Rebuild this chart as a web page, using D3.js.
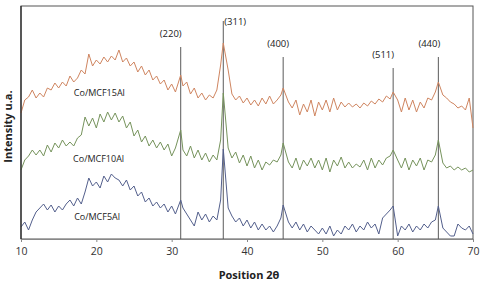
<!DOCTYPE html>
<html>
<head>
<meta charset="utf-8">
<script src="https://cdn.jsdelivr.net/npm/d3@7"></script>
<style>
  body { margin: 0; background: #fff; }
  text { font-family: "Open Sans", "Noto Sans", sans-serif; }
</style>
</head>
<body>
<div id="chart"></div>
<script>
// 2-theta positions shared by the three patterns
var angles = [
    10, 10.5, 11, 11.5, 12, 12.5, 13, 13.5, 14, 14.5,
    15, 15.5, 16, 16.5, 17, 17.5, 18, 18.5, 19, 19.5,
    20, 20.5, 21, 21.5, 22, 22.5, 23, 23.5, 24, 24.5,
    25, 25.5, 26, 26.5, 27, 27.5, 28, 28.5, 29, 29.5,
    30, 30.5, 31.2, 31.5, 32, 32.5, 33, 33.5, 34, 34.5,
    35, 35.5, 36, 36.5, 36.85, 37.5, 38, 38.5, 39, 39.5,
    40, 40.5, 41, 41.5, 42, 42.5, 43, 43.5, 44, 44.5,
    44.8, 45.5, 46, 46.5, 47, 47.5, 48, 48.5, 49, 49.5,
    50, 50.5, 51, 51.5, 52, 52.5, 53, 53.5, 54, 54.5,
    55, 55.5, 56, 56.5, 57, 57.5, 58, 58.5, 59, 59.4,
    60, 60.5, 61, 61.5, 62, 62.5, 63, 63.5, 64, 64.5,
    65, 65.4, 66, 66.5, 67, 67.5, 68, 68.5, 69, 69.5,
    70
];

// intensities (already offset, as stacked in the figure)
var mcf15 = [
    126, 139, 142, 149, 141, 146, 142, 151, 149, 156,
    151, 157, 153, 163, 157, 161, 169, 165, 185, 173,
    179, 175, 182, 177, 183, 179, 189, 177, 181, 173,
    177, 167, 173, 164, 169, 159, 163, 155, 159, 149,
    155, 147, 164, 153, 157, 145, 151, 141, 146, 139,
    144, 141, 149, 174, 196, 169, 145, 139, 143, 136,
    141, 134, 139, 133, 141, 135, 143, 135, 139, 144,
    151, 137, 131, 139, 124, 135, 127, 139, 123, 137,
    129, 139, 127, 141, 129, 137, 132, 136, 132, 135,
    131, 136, 133, 138, 135, 140, 137, 143, 140, 147,
    139, 127, 141, 129, 139, 127, 137, 131, 141, 139,
    147, 157, 144, 141, 137, 135, 131, 133, 129, 141,
    111
];

var mcf10 = [
    69, 79, 83, 89, 84, 89, 83, 94, 87, 96,
    91, 99, 93, 97, 93, 101, 104, 122, 113, 121,
    111, 125, 117, 127, 119, 126, 117, 123, 111, 117,
    103, 109, 97, 103, 93, 99, 91, 97, 89, 95,
    83, 91, 109, 89, 83, 93, 81, 89, 79, 86,
    77, 84, 79, 99, 146, 91, 81, 87, 76, 84,
    73, 83, 71, 79, 69, 77, 74, 79, 77, 84,
    96, 77, 71, 81, 69, 79, 73, 81, 71, 79,
    69, 81, 67, 79, 73, 82, 71, 77, 71, 75,
    72, 79, 69, 81, 71, 79, 74, 81, 83, 89,
    79, 71, 81, 69, 79, 73, 81, 69, 79, 77,
    84, 99, 76, 71, 73, 69, 72, 69, 71, 67,
    69
];

var mcf5 = [
    12, 17, 9, 19, 27, 31, 35, 29, 34, 27,
    33, 29, 35, 39, 33, 41, 35, 47, 61, 53,
    57, 51, 63, 57, 65, 61, 59, 53, 59, 49,
    53, 43, 47, 37, 41, 33, 37, 31, 35, 27,
    33, 25, 39, 31, 25, 19, 13, 27, 19, 25,
    17, 23, 19, 39, 90, 31, 23, 17, 21, 13,
    19, 11, 17, 9, 15, 9, 13, 7, 13, 21,
    34, 17, 11, 17, 9, 15, 7, 13, 9, 5,
    11, 5, 13, 3, 9, 5, 13, 9, 15, 7,
    13, 9, 17, 11, 15, 5, 21, 25, 29, 33,
    3, 13, 9, 15, 7, 13, 9, 15, 11, 17,
    19, 33, 11, 7, 3, 3, 15, 11, 9, 13,
    5
];

var seriesNames = ["Co/MCF15Al", "Co/MCF10Al", "Co/MCF5Al"];
var seriesColors = ["#cf8560", "#76935c", "#535f8c"];

// reflection markers: angle, label, top of marker line (intensity units)
var peakAngles = [31.2, 36.85, 44.8, 59.4, 65.4];
var peakLabels = ["(220)", "(311)", "(400)", "(511)", "(440)"];
var peakTops = [192, 218, 182, 171, 182];
var labelShift = [-10, 1, -5, -10, -9];

var xTicks = [10, 20, 30, 40, 50, 60, 70];

var margin = { top: 6, right: 12, bottom: 45, left: 21 };
var width = 485 - margin.left - margin.right;
var height = 284 - margin.top - margin.bottom;

var svg = d3.select("#chart").append("svg")
    .attr("width", 485)
    .attr("height", 284);

var g = svg.append("g")
    .attr("transform", "translate(" + margin.left + "," + margin.top + ")");

var x = d3.scaleLinear().domain([10, 70]).range([0, width]);
var y = d3.scaleLinear().domain([0, 233]).range([height, 0]);

// plot frame
g.append("rect")
    .attr("x", 0).attr("y", 0)
    .attr("width", width).attr("height", height)
    .attr("fill", "none")
    .attr("stroke", "#555")
    .attr("stroke-width", 1);

// reflection marker lines
g.selectAll(".peak-line")
    .data(peakAngles)
    .enter().append("line")
    .attr("class", "peak-line")
    .attr("x1", d => x(d)).attr("x2", d => x(d))
    .attr("y1", (d, i) => y(peakTops[i]))
    .attr("y2", height)
    .attr("stroke", "#5a5a5a")
    .attr("stroke-width", 1);

// (311) sits beside the top of its line, the others above theirs
g.selectAll(".peak-label")
    .data(peakAngles)
    .enter().append("text")
    .attr("class", "peak-label")
    .attr("x", (d, i) => x(d) + labelShift[i])
    .attr("y", (d, i) => i === 1 ? y(peakTops[i]) + 4 : y(peakTops[i]) - 10)
    .attr("text-anchor", (d, i) => i === 1 ? "start" : "middle")
    .attr("font-size", "9.5px")
    .attr("fill", "#222")
    .text((d, i) => peakLabels[i]);

var line = d3.line()
    .x((d, i) => x(angles[i]))
    .y(d => y(d));

[mcf15, mcf10, mcf5].forEach(function(values, k) {
    g.append("path")
        .datum(values)
        .attr("fill", "none")
        .attr("stroke", seriesColors[k])
        .attr("stroke-width", 1)
        .attr("d", line);
});

// series labels
var labelPos = [[20.4, 145], [20.3, 79], [20.1, 21]];
g.selectAll(".series-label")
    .data(seriesNames)
    .enter().append("text")
    .attr("class", "series-label")
    .attr("x", (d, i) => x(labelPos[i][0]))
    .attr("y", (d, i) => y(labelPos[i][1]))
    .attr("text-anchor", "middle")
    .attr("dominant-baseline", "middle")
    .attr("font-size", "9px")
    .attr("fill", "#222")
    .text(d => d);

// x axis
var xAxis = d3.axisBottom(x)
    .tickValues(xTicks)
    .tickSize(3)
    .tickPadding(6);

var ax = g.append("g")
    .attr("class", "axis x-axis")
    .attr("transform", "translate(0," + height + ")")
    .call(xAxis);

ax.select(".domain").attr("stroke", "#888");
ax.selectAll(".tick line").attr("stroke", "#888");
ax.selectAll(".tick text")
    .attr("font-size", "10.5px")
    .attr("fill", "#333")
    .style("font-family", "'Open Sans', sans-serif");

// left axis line
g.append("line")
    .attr("x1", 0).attr("x2", 0)
    .attr("y1", 0).attr("y2", height)
    .attr("stroke", "#222")
    .attr("stroke-width", 1.2);

// axis titles
svg.append("text")
    .attr("x", margin.left + width / 2 + 2)
    .attr("y", 279)
    .attr("text-anchor", "middle")
    .attr("font-size", "11px")
    .attr("font-weight", "bold")
    .attr("fill", "#222")
    .text("Position 2θ");

svg.append("text")
    .attr("transform", "translate(12," + (margin.top + height / 2 + 4) + ") rotate(-90)")
    .attr("text-anchor", "middle")
    .attr("font-size", "11px")
    .attr("font-weight", "bold")
    .attr("fill", "#222")
    .text("Intensity u.a.");
</script>
</body>
</html>
